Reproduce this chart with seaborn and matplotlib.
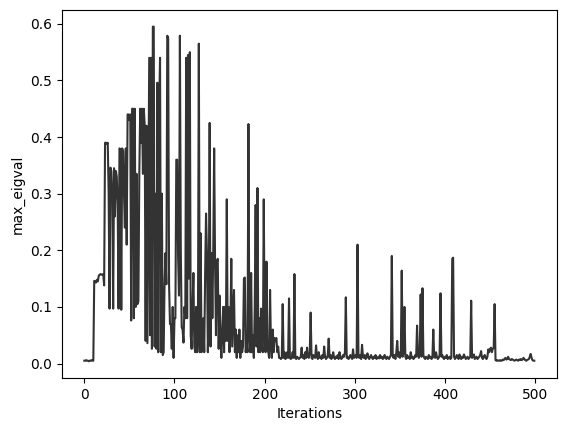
import numpy as np
import pandas as pd
import seaborn as sns
from matplotlib import pyplot as plt

# max eigenvalue per iteration in four stretches
warmup = [0.005, 0.005, 0.006, 0.005, 0.005, 0.004, 0.005, 0.005, 0.006, 0.005, 0.005,
          0.146, 0.145, 0.143, 0.148, 0.145, 0.155, 0.157, 0.158, 0.157, 0.157, 0.158, 0.138]

burst = [0.39, 0.39, 0.388, 0.39, 0.30, 0.097, 0.346,
         0.34, 0.30, 0.097, 0.345, 0.26, 0.34, 0.33, 0.28, 0.097, 0.38,
         0.378, 0.095, 0.38, 0.375, 0.30, 0.24, 0.38, 0.21, 0.44, 0.44,
         0.43, 0.44, 0.076, 0.45, 0.45, 0.08, 0.45, 0.10, 0.335, 0.105,
         0.11, 0.335, 0.45, 0.39, 0.45, 0.335, 0.45, 0.42, 0.04, 0.42,
         0.036, 0.30, 0.54, 0.05, 0.54, 0.026, 0.595, 0.595, 0.03, 0.30,
         0.026, 0.496, 0.02, 0.45, 0.54, 0.02, 0.30, 0.015, 0.02, 0.143,
         0.195, 0.14, 0.579, 0.575, 0.14, 0.07, 0.07, 0.026, 0.10, 0.01,
         0.08, 0.08, 0.36, 0.36, 0.19, 0.12, 0.579, 0.2, 0.064, 0.06,
         0.037, 0.1, 0.08, 0.54, 0.08, 0.545, 0.15, 0.55, 0.05, 0.026,
         0.1, 0.16, 0.03, 0.02, 0.1, 0.02, 0.05, 0.565, 0.02, 0.23,
         0.02, 0.05, 0.08, 0.02, 0.16, 0.265, 0.195, 0.02, 0.1, 0.425,
         0.03, 0.195, 0.08, 0.2, 0.38, 0.18, 0.05, 0.18, 0.185, 0.026,
         0.12, 0.04, 0.01, 0.06, 0.1, 0.02, 0.1, 0.04, 0.29, 0.04,
         0.1, 0.02, 0.06, 0.185, 0.03, 0.08, 0.13, 0.02, 0.06, 0.01,
         0.05, 0.02, 0.06, 0.01, 0.04, 0.02, 0.03, 0.15, 0.152, 0.02]

decay = [0.04, 0.02, 0.423, 0.05, 0.02, 0.16, 0.02, 0.05, 0.01, 0.1,
         0.28, 0.03, 0.31, 0.02, 0.08, 0.02, 0.097, 0.03, 0.02, 0.29,
         0.05, 0.02, 0.18, 0.03, 0.02, 0.01, 0.13, 0.03, 0.01, 0.06,
         0.02, 0.045, 0.04, 0.045, 0.02, 0.03, 0.01, 0.01, 0.008, 0.01,
         0.105, 0.01, 0.02, 0.008, 0.01, 0.02, 0.01, 0.115, 0.01, 0.008,
         0.01, 0.02, 0.01, 0.158, 0.01, 0.008, 0.012, 0.01, 0.008, 0.01]

tail = [0.012, 0.028, 0.01, 0.015, 0.008, 0.02, 0.01, 0.028, 0.012, 0.01,
        0.02, 0.09, 0.01, 0.008, 0.015, 0.012, 0.01, 0.032, 0.012, 0.008,
        0.02, 0.01, 0.012, 0.008, 0.015, 0.01, 0.03, 0.012, 0.008, 0.01,
        0.015, 0.044, 0.01, 0.015, 0.008, 0.012, 0.02, 0.01, 0.008, 0.012,
        0.01, 0.015, 0.008, 0.02, 0.012, 0.008, 0.01, 0.015, 0.012, 0.02,
        0.117, 0.01, 0.012, 0.008, 0.01, 0.015, 0.012, 0.008, 0.025, 0.01,
        0.012, 0.015, 0.01, 0.21, 0.012, 0.01, 0.015, 0.008, 0.033, 0.012,
        0.01, 0.015, 0.008, 0.012, 0.018, 0.01, 0.008, 0.012, 0.015, 0.01,
        0.008, 0.012, 0.01, 0.015, 0.008, 0.01, 0.012, 0.009, 0.015, 0.01,
        0.012, 0.008, 0.01, 0.015, 0.01, 0.008, 0.012, 0.01, 0.008, 0.012,
        0.015, 0.19, 0.012, 0.01, 0.015, 0.008, 0.02, 0.04, 0.012, 0.02,
        0.01, 0.015, 0.164, 0.012, 0.02, 0.1, 0.012, 0.008, 0.015, 0.01,
        0.012, 0.008, 0.02, 0.01, 0.012, 0.008, 0.01, 0.015, 0.012, 0.067,
        0.015, 0.01, 0.02, 0.122, 0.012, 0.133, 0.015, 0.01, 0.008, 0.012,
        0.01, 0.008, 0.015, 0.01, 0.012, 0.008, 0.01, 0.06, 0.012, 0.01,
        0.02, 0.012, 0.008, 0.01, 0.015, 0.124, 0.012, 0.015, 0.01, 0.008,
        0.012, 0.01, 0.015, 0.008, 0.01, 0.012, 0.008, 0.01, 0.185, 0.187,
        0.012, 0.008, 0.01, 0.015, 0.012, 0.008, 0.016, 0.01, 0.008, 0.012,
        0.01, 0.016, 0.012, 0.008, 0.01, 0.012, 0.008, 0.01, 0.012, 0.111,
        0.01, 0.012, 0.016, 0.008, 0.01, 0.012, 0.008, 0.01, 0.012, 0.015,
        0.022, 0.01, 0.008, 0.012, 0.015, 0.01, 0.008, 0.012, 0.025, 0.02,
        0.026, 0.028, 0.02, 0.026, 0.028, 0.105, 0.006, 0.005, 0.006, 0.005,
        0.005, 0.006, 0.005, 0.005, 0.007, 0.006, 0.008, 0.01, 0.007, 0.008,
        0.012, 0.008, 0.007, 0.006, 0.008, 0.007, 0.006, 0.005, 0.006, 0.007,
        0.006, 0.005, 0.007, 0.006, 0.008, 0.006, 0.007, 0.01, 0.008, 0.006,
        0.005, 0.006, 0.007, 0.008, 0.012, 0.017, 0.01, 0.006, 0.005, 0.005]

max_eigval = warmup + burst + decay + tail
assert len(max_eigval) == 500, len(max_eigval)

df = pd.DataFrame({"Iterations": np.arange(len(max_eigval)), "max_eigval": max_eigval})

fig, ax = plt.subplots(figsize=(5.67, 4.32), dpi=100)
fig.subplots_adjust(left=0.109, right=0.982, top=0.977, bottom=0.125)
sns.lineplot(data=df, x="Iterations", y="max_eigval", color="#333333", linewidth=1.5, ax=ax)

plt.savefig("out.png", dpi=100)
